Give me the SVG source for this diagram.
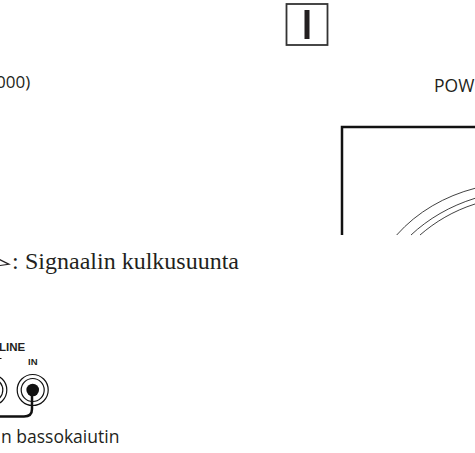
<svg xmlns="http://www.w3.org/2000/svg" width="475" height="453" viewBox="0 0 475 453">
<style>
.s{font-family:"Open Sans","Noto Sans","Liberation Sans",sans-serif;fill:#231f20}
.b{font-family:"Liberation Sans",Arial,sans-serif;font-weight:bold;fill:#231f20}
.t{font-family:"Liberation Serif","Times New Roman",serif;fill:#231f20}
.l{fill:none;stroke:#111}
</style>
<rect width="475" height="453" fill="#fff"/>
<g id="switch"><rect x="286.500" y="4" width="41" height="41" fill="none" stroke="#333" stroke-width="1.800"/><rect x="304.500" y="10" width="5" height="29" fill="#231f20"/></g>
<text class="s" x="-4" y="88" font-size="17">000)</text>
<text class="s" x="434" y="91.500" font-size="17.500">POW</text>
<g id="panel"><path class="l" stroke-width="2.500" d="M342 235V127H475"/>
<path class="l" stroke-width="0.800" d="M396.700 235C417 212 445 196 475 188.300"/>
<path class="l" stroke-width="0.800" d="M411 235C428 219 450 206 475 198.300"/>
<path class="l" stroke-width="0.800" d="M420 235C435 222 453 211 475 204"/></g>
<path d="M0 259L11 264.500L0 266V265L7 264L0 260.500Z" fill="#231f20"/>
<text class="t" x="12" y="269" font-size="24">:</text>
<text class="t" x="25" y="269" font-size="24">Signaalin kulkusuunta</text>
<g id="jacks"><text class="b" x="-1" y="351" font-size="11.500">LINE</text><text class="b" x="28" y="365" font-size="9.500">IN</text>
<path class="l" stroke-width="1" d="M0 358.500H1.500"/>
<circle class="l" cx="-8.700" cy="390" r="15.500" stroke-width="1.200"/><circle class="l" cx="-8.700" cy="390" r="11.500" stroke-width="1.200"/>
<circle class="l" cx="32.700" cy="390" r="15.500" stroke-width="1.200"/><circle class="l" cx="32.700" cy="390" r="11.500" stroke-width="1.200"/><circle cx="32.700" cy="390" r="6.300" fill="#111"/></g>
<g id="connectors"><path class="l" stroke-width="2.500" d="M32 390V409Q32 416.500 24 416.500H0"/></g>
<text class="s" x="1" y="443" font-size="17.500">n bassokaiutin</text>
</svg>
